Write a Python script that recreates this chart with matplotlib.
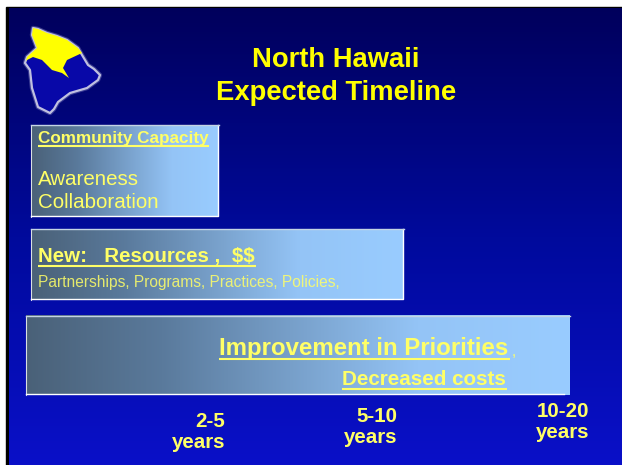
import numpy as np
from matplotlib import pyplot as plt
from matplotlib.patches import Polygon, Rectangle
from matplotlib.colors import LinearSegmentedColormap

plt.rcParams['font.family'] = ['Liberation Sans', 'DejaVu Sans']
plt.rcParams['text.parse_math'] = False

# slide texts
title_lines  = ['North Hawaii', 'Expected Timeline']
box1_head    = 'Community Capacity'
box1_items   = ['Awareness', 'Collaboration']
box2_head    = 'New:   Resources ,  $$'
box2_sub     = 'Partnerships, Programs, Practices, Policies,'
box3_head    = 'Improvement in Priorities'
box3_sub     = 'Decreased costs'
time_labels  = ['2-5\nyears', '5-10\nyears', '10-20\nyears']

# island outline
island_x     = [33,38,47,57,67,78,82,88,94,100,98,87,70,58,54,50,38,32,30,25,27,37,32]
island_y     = [28,29,33,36,40,48,55,65,69,75,80,88,93,102,109,113,107,88,70,63,57,48,35]
yellow_x     = [33,38,47,57,67,78,82,67,63,69,62,52,42,33,27,26,27,37,32]
yellow_y     = [28,29,33,36,40,48,53,60,68,78,73,70,60,57,60,61,57,48,35]

YELLOW = '#ffff66'
W, H   = 622, 465

fig = plt.figure(figsize=(W/100, H/100), dpi=100, facecolor='white')
ax  = fig.add_axes([0, 0, 1, 1])
ax.set_xlim(0, W)
ax.set_ylim(H, 0)
ax.axis('off')


def gradient(x0, y0, x1, y1, colors):
	cmap = LinearSegmentedColormap.from_list('g', colors)
	g    = np.linspace(0, 1, 256)[:,None]
	ax.imshow(g, cmap=cmap, extent=(x0, x1, y1, y0), aspect='auto', vmin=0, vmax=1, interpolation='bilinear')
	ax.set_xlim(0, W)
	ax.set_ylim(H, 0)


def box(x0, y0, x1, y1, stop=0.72, right=True):
	cmap = LinearSegmentedColormap.from_list('b', [(0,'#4a6178'), (0.25,'#5a7a9c'), (stop,'#94c4f6'), (1,'#99ccff')])
	g    = np.linspace(0, 1, 256)[None,:]
	ax.imshow(g, cmap=cmap, extent=(x0, x1, y1, y0), aspect='auto', interpolation='bilinear', zorder=2)
	if right:
		ax.plot([x0, x1-1, x1-1], [y1-1, y1-1, y0], color='white', lw=1, zorder=3)
	else:
		ax.plot([x0, x1-6], [y1-1, y1-1], color='white', lw=1, zorder=3)
	ax.plot([x0, x0], [y0, y1], color='white', lw=0.8, alpha=0.8, zorder=3)
	ax.plot([x0, x1], [y0, y0], color='#c4d4e4', lw=1, zorder=3)
	ax.set_xlim(0, W)
	ax.set_ylim(H, 0)


def uline(x0, x1, y, lw=1.5):
	ax.plot([x0, x1], [y, y], color=YELLOW, lw=lw, solid_capstyle='butt', zorder=4)


#frame and background:
ax.add_patch(Rectangle((6, 7), W-6, H-7, color='black', zorder=0))
gradient(9, 9, W, H, ['#00005c', '#000a9c', '#0a10c8'])

#island:
pts = np.c_[island_x, island_y]
ax.add_patch(Polygon(pts, fc='none', ec='#8080c0', lw=3.2, alpha=0.45, joinstyle='round', zorder=2))
ax.add_patch(Polygon(pts, fc='#0808a8', ec='#c0c0e0', lw=1.6, joinstyle='round', zorder=2))
ax.add_patch(Polygon(np.c_[yellow_x, yellow_y], fc='#ffff00', ec='none', zorder=3))

#title:
ax.text(336, 60, title_lines[0], color='#ffff00', fontsize=19.7, fontweight='bold', ha='center', va='center')
ax.text(336, 93, title_lines[1], color='#ffff00', fontsize=19.7, fontweight='bold', ha='center', va='center')

#box 1:
box(31, 125, 219, 217, stop=0.75)
ax.text(38, 138, box1_head, color=YELLOW, fontsize=12.3, fontweight='bold', va='center', zorder=4)
uline(38, 209, 146)
ax.text(38, 179, box1_items[0], color=YELLOW, fontsize=14.8, va='center', zorder=4)
ax.text(38, 202, box1_items[1], color=YELLOW, fontsize=14.8, va='center', zorder=4)

#box 2:
box(31, 229, 404, 300)
ax.text(38, 256, box2_head, color=YELLOW, fontsize=14.8, fontweight='bold', va='center', zorder=4)
uline(38, 256, 265.5)
ax.text(38, 282, box2_sub, color=YELLOW, fontsize=11.2, va='center', zorder=4, alpha=0.85)

#box 3:
box(26, 316, 570, 395, right=False)
ax.text(219, 348, box3_head, color=YELLOW, fontsize=17.3, fontweight='bold', va='center', zorder=4)
uline(219, 510, 358.5)
ax.text(512, 352, ',', color=YELLOW, fontsize=11, va='center', zorder=4)
ax.text(342, 379, box3_sub, color=YELLOW, fontsize=14.9, fontweight='bold', va='center', zorder=4)
uline(342, 507, 388.5)

#time labels:
ax.text(225, 432, time_labels[0], color=YELLOW, fontsize=14.8, fontweight='bold', ha='right', va='center', multialignment='right', linespacing=1.13)
ax.text(397, 427, time_labels[1], color=YELLOW, fontsize=14.8, fontweight='bold', ha='right', va='center', multialignment='right', linespacing=1.13)
ax.text(589, 422, time_labels[2], color=YELLOW, fontsize=14.8, fontweight='bold', ha='right', va='center', multialignment='right', linespacing=1.13)

plt.savefig('out.png', dpi=100, facecolor='white')
